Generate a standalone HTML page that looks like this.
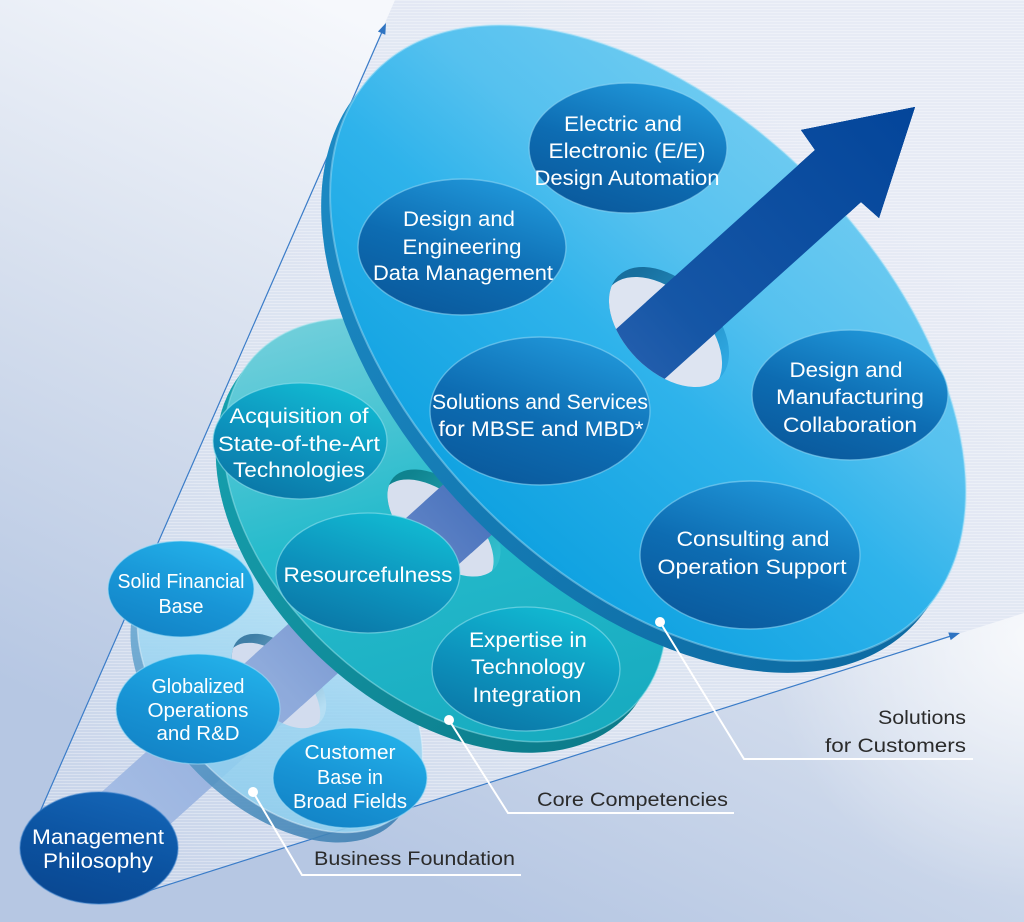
<!DOCTYPE html>
<html><head><meta charset="utf-8"><style>
html,body{margin:0;padding:0;background:#dfe5f1;}
svg{display:block;}
text{font-family:"Liberation Sans",Arial,sans-serif;}
.w{fill:#fff;text-anchor:middle;font-size:21.5px;}
.s{fill:#fff;text-anchor:middle;font-size:20px;}
.L{fill:#2b2b2b;font-size:19.5px;}
</style></head><body>
<svg width="1024" height="922" viewBox="0 0 1024 922" xmlns="http://www.w3.org/2000/svg">
<defs>
 <linearGradient id="bg" gradientUnits="userSpaceOnUse" x1="320" y1="0" x2="0" y2="680">
  <stop offset="0" stop-color="#f6f8fc"/><stop offset="0.5" stop-color="#d6dfee"/><stop offset="1" stop-color="#b6c7e3"/>
 </linearGradient>
 <radialGradient id="glow" gradientUnits="userSpaceOnUse" cx="1030" cy="640" r="260">
  <stop offset="0" stop-color="#fff" stop-opacity="0.75"/><stop offset="1" stop-color="#fff" stop-opacity="0"/>
 </radialGradient>
 <linearGradient id="cone" gradientUnits="userSpaceOnUse" x1="760" y1="80" x2="90" y2="820">
  <stop offset="0" stop-color="#e7ebf5"/><stop offset="0.6" stop-color="#dae2f0"/><stop offset="1" stop-color="#c9d5ea"/>
 </linearGradient>
 <pattern id="str" width="8" height="3" patternUnits="userSpaceOnUse"><rect width="8" height="1" fill="#fff" opacity="0.3"/></pattern>
 <linearGradient id="shaft" gradientUnits="userSpaceOnUse" x1="99" y1="848" x2="915" y2="107">
  <stop offset="0" stop-color="#a9c0e6"/><stop offset="0.22" stop-color="#8eaadb"/><stop offset="0.36" stop-color="#6a8ccb"/><stop offset="0.45" stop-color="#4f77bf"/><stop offset="0.62" stop-color="#2a62b0"/><stop offset="0.72" stop-color="#1556a6"/><stop offset="1" stop-color="#03459a"/>
 </linearGradient>
 <linearGradient id="bigFace" x1="0.4" y1="0" x2="0.55" y2="1">
  <stop offset="0" stop-color="#6ccaf1"/><stop offset="0.3" stop-color="#55c1ef"/><stop offset="0.55" stop-color="#2fb3eb"/><stop offset="1" stop-color="#10a2e1"/>
 </linearGradient>
 <linearGradient id="bigRim" x1="0" y1="0" x2="1" y2="0">
  <stop offset="0" stop-color="#1c8ac4"/><stop offset="1" stop-color="#0d6ba3"/>
 </linearGradient>
 <linearGradient id="tealFace" x1="0" y1="0.3" x2="1" y2="0.7">
  <stop offset="0" stop-color="#76d0dc"/><stop offset="0.45" stop-color="#26bbcc"/><stop offset="1" stop-color="#16aabf"/>
 </linearGradient>
 <linearGradient id="tealRim" x1="0" y1="0" x2="1" y2="0">
  <stop offset="0" stop-color="#16a0ae"/><stop offset="1" stop-color="#0c7b8a"/>
 </linearGradient>
 <linearGradient id="lightFace" x1="0" y1="0" x2="1" y2="1">
  <stop offset="0" stop-color="#c6e9f8"/><stop offset="0.5" stop-color="#9dd6f2"/><stop offset="1" stop-color="#86caec"/>
 </linearGradient>
 <linearGradient id="lightRim" x1="0" y1="0" x2="1" y2="0">
  <stop offset="0" stop-color="#6aa9d2"/><stop offset="1" stop-color="#3e80b3"/>
 </linearGradient>
 <linearGradient id="bb" x1="0.75" y1="0" x2="0.25" y2="1">
  <stop offset="0" stop-color="#2199db"/><stop offset="0.55" stop-color="#0d6cb2"/><stop offset="1" stop-color="#0a599c"/>
 </linearGradient>
 <linearGradient id="tb" x1="0.75" y1="0" x2="0.25" y2="1">
  <stop offset="0" stop-color="#12bcd3"/><stop offset="0.55" stop-color="#0d93bd"/><stop offset="1" stop-color="#0a76a6"/>
 </linearGradient>
 <linearGradient id="lb" x1="0.75" y1="0" x2="0.25" y2="1">
  <stop offset="0" stop-color="#24b2ea"/><stop offset="0.55" stop-color="#1895d6"/><stop offset="1" stop-color="#1283c6"/>
 </linearGradient>
 <linearGradient id="mb" x1="0.7" y1="0" x2="0.3" y2="1">
  <stop offset="0" stop-color="#1465b6"/><stop offset="0.55" stop-color="#0b52a0"/><stop offset="1" stop-color="#0a4791"/>
 </linearGradient>
 <linearGradient id="wB" gradientUnits="userSpaceOnUse" x1="630" y1="280" x2="720" y2="370">
  <stop offset="0" stop-color="#176f9e"/><stop offset="1" stop-color="#2fa9e3"/>
 </linearGradient>
 <linearGradient id="wT" gradientUnits="userSpaceOnUse" x1="405" y1="480" x2="490" y2="565">
  <stop offset="0" stop-color="#0f838f"/><stop offset="1" stop-color="#33c0cf"/>
 </linearGradient>
 <linearGradient id="wL" gradientUnits="userSpaceOnUse" x1="245" y1="645" x2="315" y2="715">
  <stop offset="0" stop-color="#3f7ea6"/><stop offset="1" stop-color="#b5def3"/>
 </linearGradient>
 <clipPath id="hB"><ellipse cx="669" cy="327" rx="72" ry="45" transform="rotate(45 669 327)"/></clipPath>
 <clipPath id="hT"><ellipse cx="444" cy="523" rx="68" ry="38" transform="rotate(42 444 523)"/></clipPath>
 <clipPath id="hL"><ellipse cx="279" cy="681" rx="58" ry="33" transform="rotate(45 279 681)"/></clipPath>
 <clipPath id="fB"><rect x="669" y="-1673" width="3000" height="4000" transform="rotate(-42 669 327)"/></clipPath>
 <clipPath id="fT"><rect x="444" y="-1477" width="3000" height="4000" transform="rotate(-42 444 523)"/></clipPath>
 <clipPath id="fL"><rect x="279" y="-1319" width="3000" height="4000" transform="rotate(-42 279 681)"/></clipPath>
</defs>

<rect width="1024" height="922" fill="url(#bg)"/>
<rect width="1024" height="922" fill="url(#glow)"/>
<polygon points="43,804 395,0 1024,0 1024,613 150,891" fill="url(#cone)"/>
<polygon points="43,804 395,0 1024,0 1024,613 150,891" fill="url(#str)"/>

<line x1="32" y1="830" x2="382" y2="32" stroke="#3a7cc8" stroke-width="1.2"/>
<polygon points="386,23 385.3,34.7 377.9,31.5" fill="#2f74c2"/>
<line x1="120" y1="900" x2="951" y2="636" stroke="#3a7cc8" stroke-width="1.2"/>
<polygon points="960,633 950.7,640.1 948.3,632.5" fill="#2f74c2"/>

<path id="sh" d="M41.6,846 L815,150 L801,130 L915,107 L879,218 L861,202 L88.4,898 Z" fill="url(#shaft)"/>

<ellipse cx="99" cy="848" rx="79" ry="56" fill="url(#mb)" stroke="#3b82cc" stroke-opacity="0.5" stroke-width="1.5"/>
<text class="w" x="98" y="844" textLength="132" lengthAdjust="spacingAndGlyphs">Management</text>
<text class="w" x="98" y="868" textLength="110" lengthAdjust="spacingAndGlyphs">Philosophy</text>

<g opacity="0.88">
<ellipse cx="273" cy="700" rx="172" ry="105" transform="rotate(45 273 700)" fill="url(#lightRim)"/>
<ellipse cx="280" cy="690" rx="172" ry="105" transform="rotate(45 280 690)" fill="url(#lightFace)" stroke="#e6f6fd" stroke-opacity="0.5" stroke-width="1.5"/>
</g>
<g clip-path="url(#hL)">
 <rect x="200" y="600" width="160" height="160" fill="url(#wL)"/>
 <ellipse cx="273" cy="690" rx="58" ry="33" transform="rotate(45 273 690)" fill="#d2dcee"/>
 <use href="#sh"/>
</g>
<use href="#sh" clip-path="url(#fL)"/>

<ellipse cx="181" cy="589" rx="73" ry="48" fill="url(#lb)" stroke="#9fdcf7" stroke-opacity="0.6" stroke-width="1.3"/>
<text class="s" x="181" y="588" textLength="127" lengthAdjust="spacingAndGlyphs">Solid Financial</text>
<text class="s" x="181" y="613" textLength="45" lengthAdjust="spacingAndGlyphs">Base</text>
<ellipse cx="198" cy="709" rx="82" ry="55" fill="url(#lb)" stroke="#9fdcf7" stroke-opacity="0.6" stroke-width="1.3"/>
<text class="s" x="198" y="693" textLength="93" lengthAdjust="spacingAndGlyphs">Globalized</text>
<text class="s" x="198" y="717" textLength="101" lengthAdjust="spacingAndGlyphs">Operations</text>
<text class="s" x="198" y="740" textLength="83" lengthAdjust="spacingAndGlyphs">and R&amp;D</text>
<ellipse cx="350" cy="778" rx="77" ry="50" fill="url(#lb)" stroke="#9fdcf7" stroke-opacity="0.6" stroke-width="1.3"/>
<text class="s" x="350" y="759" textLength="91" lengthAdjust="spacingAndGlyphs">Customer</text>
<text class="s" x="350" y="784" textLength="66" lengthAdjust="spacingAndGlyphs">Base in</text>
<text class="s" x="350" y="808" textLength="114" lengthAdjust="spacingAndGlyphs">Broad Fields</text>

<ellipse cx="437" cy="541" rx="258" ry="165" transform="rotate(42 437 541)" fill="url(#tealRim)"/>
<ellipse cx="445" cy="530" rx="258" ry="165" transform="rotate(42 445 530)" fill="url(#tealFace)" stroke="#9be3ec" stroke-opacity="0.5" stroke-width="1.5"/>
<g clip-path="url(#hT)">
 <rect x="360" y="440" width="170" height="170" fill="url(#wT)"/>
 <ellipse cx="437" cy="533" rx="68" ry="38" transform="rotate(42 437 533)" fill="#d7dfee"/>
 <use href="#sh"/>
</g>
<use href="#sh" clip-path="url(#fT)"/>

<ellipse cx="300" cy="441" rx="87" ry="58" fill="url(#tb)" stroke="#8fe0ec" stroke-opacity="0.6" stroke-width="1.3"/>
<text class="w" x="299" y="423" textLength="139" lengthAdjust="spacingAndGlyphs">Acquisition of</text>
<text class="w" x="299" y="451" textLength="162" lengthAdjust="spacingAndGlyphs">State-of-the-Art</text>
<text class="w" x="299" y="477" textLength="132" lengthAdjust="spacingAndGlyphs">Technologies</text>
<ellipse cx="368" cy="573" rx="92" ry="60" fill="url(#tb)" stroke="#8fe0ec" stroke-opacity="0.6" stroke-width="1.3"/>
<text class="w" x="368" y="582" textLength="169" lengthAdjust="spacingAndGlyphs">Resourcefulness</text>
<ellipse cx="526" cy="669" rx="94" ry="62" fill="url(#tb)" stroke="#8fe0ec" stroke-opacity="0.6" stroke-width="1.3"/>
<text class="w" x="528" y="647" textLength="118" lengthAdjust="spacingAndGlyphs">Expertise in</text>
<text class="w" x="528" y="674" textLength="114" lengthAdjust="spacingAndGlyphs">Technology</text>
<text class="w" x="527" y="702" textLength="109" lengthAdjust="spacingAndGlyphs">Integration</text>

<ellipse cx="639" cy="355" rx="385" ry="232" transform="rotate(45 639 355)" fill="url(#bigRim)"/>
<ellipse cx="648" cy="343" rx="385" ry="232" transform="rotate(45 648 343)" fill="url(#bigFace)" stroke="#a9e2f8" stroke-opacity="0.45" stroke-width="2"/>
<g clip-path="url(#hB)">
 <rect x="590" y="250" width="160" height="160" fill="url(#wB)"/>
 <ellipse cx="662" cy="337" rx="72" ry="45" transform="rotate(45 662 337)" fill="#dde4f1"/>
 <use href="#sh"/>
</g>
<use href="#sh" clip-path="url(#fB)"/>

<ellipse cx="628" cy="148" rx="99" ry="65" fill="url(#bb)" stroke="#8ad4f4" stroke-opacity="0.6" stroke-width="1.4"/>
<text class="w" x="623" y="131" textLength="118" lengthAdjust="spacingAndGlyphs">Electric and</text>
<text class="w" x="627" y="158" textLength="157" lengthAdjust="spacingAndGlyphs">Electronic (E/E)</text>
<text class="w" x="627" y="185" textLength="185" lengthAdjust="spacingAndGlyphs">Design Automation</text>

<ellipse cx="462" cy="247" rx="104" ry="68" fill="url(#bb)" stroke="#8ad4f4" stroke-opacity="0.6" stroke-width="1.4"/>
<text class="w" x="459" y="226" textLength="112" lengthAdjust="spacingAndGlyphs">Design and</text>
<text class="w" x="462" y="254" textLength="119" lengthAdjust="spacingAndGlyphs">Engineering</text>
<text class="w" x="463" y="280" textLength="180" lengthAdjust="spacingAndGlyphs">Data Management</text>

<ellipse cx="540" cy="411" rx="110" ry="74" fill="url(#bb)" stroke="#8ad4f4" stroke-opacity="0.6" stroke-width="1.4"/>
<text class="w" x="540" y="409" textLength="216" lengthAdjust="spacingAndGlyphs">Solutions and Services</text>
<text class="w" x="541" y="436" textLength="205" lengthAdjust="spacingAndGlyphs">for MBSE and MBD*</text>

<ellipse cx="850" cy="395" rx="98" ry="65" fill="url(#bb)" stroke="#8ad4f4" stroke-opacity="0.6" stroke-width="1.4"/>
<text class="w" x="846" y="377" textLength="113" lengthAdjust="spacingAndGlyphs">Design and</text>
<text class="w" x="850" y="404" textLength="148" lengthAdjust="spacingAndGlyphs">Manufacturing</text>
<text class="w" x="850" y="432" textLength="134" lengthAdjust="spacingAndGlyphs">Collaboration</text>

<ellipse cx="750" cy="555" rx="110" ry="74" fill="url(#bb)" stroke="#8ad4f4" stroke-opacity="0.6" stroke-width="1.4"/>
<text class="w" x="753" y="546" textLength="153" lengthAdjust="spacingAndGlyphs">Consulting and</text>
<text class="w" x="752" y="574" textLength="189" lengthAdjust="spacingAndGlyphs">Operation Support</text>

<g fill="none" stroke="#fff" stroke-width="2">
 <polyline points="253,792 302,875 521,875"/>
 <polyline points="449,720 508,813 734,813"/>
 <polyline points="660,622 744,759 973,759"/>
</g>
<g fill="#fff">
 <circle cx="253" cy="792" r="5"/>
 <circle cx="449" cy="720" r="5"/>
 <circle cx="660" cy="622" r="5"/>
</g>
<text class="L" x="314" y="865" textLength="201" lengthAdjust="spacingAndGlyphs">Business Foundation</text>
<text class="L" x="537" y="806" textLength="191" lengthAdjust="spacingAndGlyphs">Core Competencies</text>
<text class="L" x="878" y="724" textLength="88" lengthAdjust="spacingAndGlyphs">Solutions</text>
<text class="L" x="825" y="752" textLength="141" lengthAdjust="spacingAndGlyphs">for Customers</text>
</svg>
</body></html>
